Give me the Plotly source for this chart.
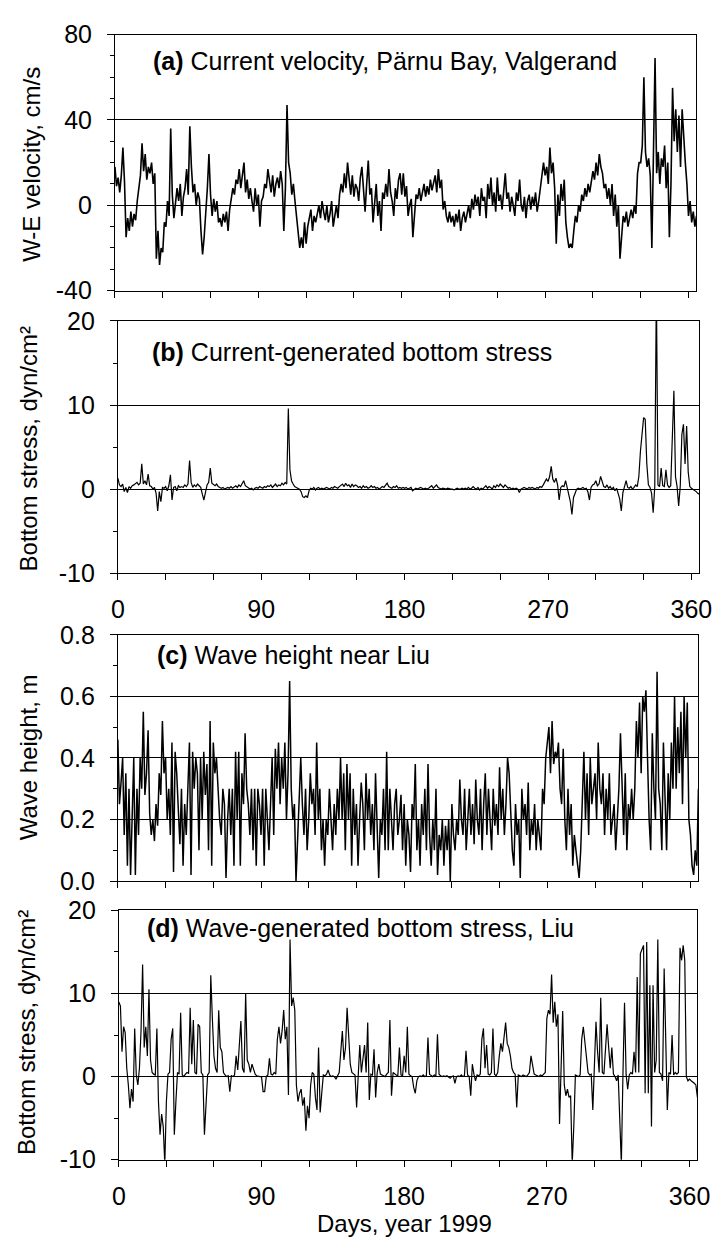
import plotly.graph_objects as go

days = list(range(366))

# (a) W-E current velocity, cm/s (daily estimates)
velocity = [
    18, 9, 13, 6, 14, 27, 11, -15, -6, -12,
    -3, -10, -4, -7, 2, 8, 14, 29, 16, 24,
    12, 18, 15, 20, 10, 15, -25, -12, -28, -20,
    -22, -8, -10, 2, -5, 36, 5, -6, 3, 8,
    2, 10, -5, 4, 8, 17, 5, 37, 18, 6,
    10, 0, 6, 3, -12, -23, -15, -5, 8, 24,
    5, -5, 3, -3, 2, -8, -6, -10, -4, -8,
    -3, -12, -2, 3, 8, 5, 12, 10, 17, 8,
    14, 20, 6, 12, 3, 8, 2, -3, 8, 0,
    5, -10, 2, 4, 10, 8, 17, 12, 6, 14,
    4, 10, 13, 8, 16, 10, -12, 8, 47, 20,
    15, 5, 10, 2, -5, -12, -20, -15, -20, -8,
    -18, -10, -6, -2, -12, -5, -8, -3, 0, -6,
    2, -3, -7, 0, -8, -4, 2, -10, -5, 0,
    -6, 5, 10, 6, 15, 8, 20, 12, 5, 14,
    4, 10, 8, 2, 13, 18, 5, -3, 10, 21,
    5, 8, -8, 3, 10, -5, 2, -12, 6, 3,
    10, 4, 17, 6, 2, -5, 8, 3, 12, 15,
    5, 15, 4, 9, -5, 0, 3, -15, -2, 5,
    3, 8, 2, 6, 10, 4, 9, 5, 12, 7,
    10, 14, 6, 17, 8, 12, -2, 2, -5, -8,
    -3, -8, -5, -10, -4, -8, -2, -12, -6, -3,
    -8, -4, 0, -6, 3, -2, 5, 0, 4, -5,
    8, 2, 4, -6, 10, 3, 13, 0, 6, -3,
    13, 2, 5, -2, 8, 15, 3, 6, -3, 4,
    0, -5, 6, 2, 12, 0, -3, 4, -6, 2,
    5, -2, 4, 0, 6, -3, 2, 8, 12, 20,
    14, 18, 10, 27, 15, 20, 8, -18, 5, -5,
    10, 2, 12, -8, -15, -20, -18, -20, -12, -5,
    -8, 0, -3, 5, 2, 8, 4, 10, 6, 12,
    16, 12, 20, 14, 24, 18, 15, 8, 10, 3,
    8, 0, 10, -5, 5, -10, 0, -25, -12, -5,
    -8, -3, -10, -5, -2, -6, 0, -4, 15, 20,
    20, 28, 60, 25, 18, 22, 14, -20, 20, 69,
    15, 25, 10, 22, 18, 28, 8, 20, -15, 10,
    55, 30, 45, 25, 42, 18, 45, 30, 20, 10,
    -5, 2, -8, -3, -10, -5,
]

# (b) current-generated bottom stress, dyn/cm2
current_stress = [
    1.3, 0.5, 0.3, 0.6, -0.3, 0.2, -0.4, 0.3, 0.1, 0.4,
    0.5, 0.6, 0.8, 0.5, 0.7, 3.0, 0.6, 1.0, 0.5, 1.8,
    0.4, 0.3, 0.0, 0.2, -0.5, -2.6, -0.3, -1.5, 0.2, 0.1,
    0.3, -0.2, 0.4, 1.7, -1.3, 0.2, 0.3, -0.2, 0.4, 0.2,
    0.3, 0.2, 0.5, 0.3, 0.6, 3.4, 0.8, 0.2, 0.5, 0.3,
    0.6, 0.4, 0.2, -0.6, -1.3, -0.4, 0.5, 0.8, 2.5, 0.7,
    0.5, 0.4, 0.6, 0.3, 0.2, 0.1, 0.2, 0.0, 0.1, 0.2,
    0.1, 0.3, 0.1, 0.2, 0.4, 0.2, 0.5, 0.3, 0.6, 1.0,
    0.4, 0.3, 0.2, 0.0, 0.1, -0.1, 0.1, 0.2, 0.1, 0.3,
    0.2, 0.1, 0.3, 0.2, 0.4, 0.3, 0.5, 0.2, 0.4, 0.6,
    0.3, 0.5, 0.4, 0.7, 0.5, 0.8, 0.6, 9.6, 2.3, 1.0,
    0.6, 0.3, 0.2, 0.1, 0.0, -0.3, -0.9, -1.0, -0.8, -1.0,
    -0.2, 0.1, 0.0, 0.2, -0.1, 0.1, 0.2, 0.0, 0.1, 0.0,
    0.1, 0.2, 0.1, 0.0, 0.2, 0.1, 0.3, 0.2, 0.1, 0.3,
    0.4, 0.6, 0.3, 0.7, 0.4, 0.5, 0.2, 0.6, 0.3, 0.5,
    0.4, 0.2, 0.3, 0.1, 0.4, 0.2, 0.3, 0.1, 0.2, 0.4,
    0.2, 0.3, 0.1, 0.2, 0.0, 0.1, 0.3, 0.2, 0.4, 0.7,
    0.3, 0.2, 0.1, 0.3, 0.2, 0.4, 0.1, 0.2, 0.1, 0.2,
    0.1, 0.2, 0.0, 0.1, 0.2, -0.2, 0.0, 0.1, 0.0, 0.1,
    0.2, 0.1, 0.0, 0.1, 0.0, 0.1, 0.2, 0.4, 0.1, 0.3,
    0.5, 0.2, 0.1, 0.0, 0.1, 0.0, 0.0, 0.1, 0.0, 0.0,
    0.0, -0.1, 0.0, 0.1, 0.0, 0.0, 0.1, 0.0, 0.1, 0.0,
    0.2, 0.0, 0.1, 0.3, 0.1, 0.0, 0.2, -0.1, 0.1, 0.0,
    0.2, 0.4, 0.1, 0.3, 0.2, 0.0, 0.4, 0.2, 0.5, 0.3,
    0.6, 0.4, 0.2, 0.5, 0.3, 0.1, 0.2, 0.0, 0.1, 0.0,
    0.1, 0.0, -0.4, 0.0, 0.1, 0.2, 0.1, 0.0, 0.2, 0.1,
    0.2, 0.1, 0.0, 0.2, 0.1, 0.3, 0.2, 0.5, 0.8, 1.2,
    0.9, 1.5, 2.7, 1.2, 0.8, 1.3, 0.5, -1.3, 0.2, 0.4,
    0.3, 1.0, 0.2, -0.8, -1.5, -3.0, -1.0, -0.5, 0.0, 0.1,
    0.0, 0.1, 0.2, 0.0, 0.1, -0.3, -1.3, 0.2, 0.5, 0.6,
    1.0, 0.4, 0.6, 1.5, 0.8, 0.3, 0.2, 0.5, 0.1, 0.3,
    0.0, 0.2, -0.2, 0.1, -0.5, -1.2, -2.6, -0.4, 0.3, 1.0,
    0.2, 0.1, 0.3, 0.0, 0.2, 0.5, 0.3, 1.5, 4.5, 6.3,
    8.5, 8.3, 3.0, 0.5, 0.2, -0.5, -2.8, 0.3, 24.0, 0.5,
    0.3, 2.5, 0.4, 0.3, 2.3, 0.5, 0.2, 0.4, 5.0, 11.7,
    1.5, 0.3, -2.0, 0.4, 6.5, 7.7, 3.0, 7.5, 2.0, 0.3,
    0.1, 0.0, -0.2, -0.3, -0.5, -0.6,
]

# (c) wave height near Liu, m
wave_height = [
    0.46, 0.25, 0.32, 0.40, 0.15, 0.35, 0.05, 0.30, 0.02, 0.25,
    0.40, 0.02, 0.30, 0.15, 0.40, 0.30, 0.55, 0.28, 0.35, 0.49,
    0.22, 0.15, 0.20, 0.13, 0.25, 0.18, 0.35, 0.28, 0.52, 0.35,
    0.40, 0.20, 0.30, 0.15, 0.45, 0.03, 0.42, 0.35, 0.20, 0.12,
    0.30, 0.05, 0.25, 0.15, 0.30, 0.45, 0.02, 0.42, 0.30, 0.40,
    0.35, 0.10, 0.40, 0.20, 0.42, 0.28, 0.38, 0.10, 0.52, 0.05,
    0.45, 0.35, 0.40, 0.30, 0.20, 0.15, 0.30, 0.25, 0.01, 0.20,
    0.30, 0.15, 0.30, 0.05, 0.42, 0.20, 0.42, 0.05, 0.35, 0.25,
    0.48, 0.30, 0.25, 0.15, 0.30, 0.10, 0.30, 0.05, 0.30, 0.25,
    0.15, 0.30, 0.05, 0.30, 0.20, 0.10, 0.25, 0.40, 0.15, 0.43,
    0.30, 0.45, 0.25, 0.40, 0.30, 0.45, 0.20, 0.35, 0.65, 0.30,
    0.20, 0.25, 0.00, 0.15, 0.30, 0.40, 0.25, 0.15, 0.30, 0.10,
    0.20, 0.35, 0.25, 0.30, 0.15, 0.45, 0.20, 0.30, 0.10, 0.20,
    0.05, 0.20, 0.15, 0.30, 0.20, 0.10, 0.25, 0.15, 0.30, 0.20,
    0.40, 0.20, 0.35, 0.10, 0.38, 0.20, 0.35, 0.05, 0.30, 0.15,
    0.25, 0.05, 0.20, 0.32, 0.25, 0.10, 0.35, 0.20, 0.30, 0.15,
    0.25, 0.10, 0.35, 0.20, 0.01, 0.20, 0.15, 0.30, 0.10, 0.42,
    0.10, 0.30, 0.20, 0.10, 0.25, 0.30, 0.15, 0.20, 0.28, 0.10,
    0.25, 0.05, 0.20, 0.15, 0.03, 0.25, 0.20, 0.38, 0.10, 0.20,
    0.05, 0.25, 0.15, 0.30, 0.10, 0.38, 0.15, 0.05, 0.20, 0.10,
    0.30, 0.02, 0.15, 0.10, 0.20, 0.05, 0.18, 0.10, 0.20, 0.00,
    0.25, 0.15, 0.10, 0.20, 0.15, 0.33, 0.20, 0.15, 0.30, 0.10,
    0.20, 0.30, 0.15, 0.25, 0.12, 0.33, 0.20, 0.15, 0.30, 0.10,
    0.25, 0.35, 0.15, 0.30, 0.20, 0.10, 0.30, 0.18, 0.25, 0.15,
    0.37, 0.20, 0.30, 0.15, 0.25, 0.40, 0.35, 0.20, 0.10, 0.05,
    0.25, 0.15, 0.20, 0.01, 0.30, 0.20, 0.25, 0.15, 0.32, 0.10,
    0.20, 0.15, 0.25, 0.10, 0.20, 0.15, 0.10, 0.30, 0.25, 0.40,
    0.45, 0.50, 0.35, 0.52, 0.38, 0.42, 0.40, 0.45, 0.30, 0.25,
    0.43, 0.20, 0.10, 0.30, 0.15, 0.25, 0.05, 0.15, 0.10, 0.05,
    0.01, 0.10, 0.30, 0.42, 0.20, 0.35, 0.15, 0.40, 0.25, 0.30,
    0.35, 0.20, 0.45, 0.30, 0.25, 0.35, 0.15, 0.30, 0.20, 0.35,
    0.15, 0.20, 0.25, 0.10, 0.20, 0.30, 0.48, 0.30, 0.15, 0.35,
    0.10, 0.25, 0.20, 0.30, 0.20, 0.30, 0.52, 0.40, 0.58, 0.35,
    0.60, 0.55, 0.62, 0.40, 0.20, 0.10, 0.48, 0.30, 0.20, 0.68,
    0.30, 0.25, 0.10, 0.45, 0.30, 0.10, 0.35, 0.20, 0.45, 0.30,
    0.60, 0.30, 0.50, 0.35, 0.55, 0.25, 0.60, 0.40, 0.58, 0.20,
    0.15, 0.05, 0.02, 0.10, 0.05, 0.30,
]

# (d) wave-generated bottom stress, Liu, dyn/cm2
wave_stress = [
    9.0, 8.5, 3.0, 6.0, 5.3, 1.0, -1.0, -3.8, -1.5, -3.0,
    5.8, 0.2, -1.0, 1.0, 5.5, 13.5, 3.5, 6.0, 2.5, 10.5,
    2.0, 0.5, 0.3, 0.2, 5.8, -3.0, -7.0, -4.5, -6.0, -10.5,
    -3.0, 0.3, 0.5, 4.5, 5.8, -7.0, -3.0, 0.5, 0.3, 7.7,
    0.2, 0.0, 0.3, 0.5, 0.4, 8.3, 1.5, 6.8, 0.5, 0.3,
    6.3, 6.0, 0.5, 0.2, -7.0, -4.0, 0.2, 0.5, 12.2, 7.0,
    2.5, 1.0, 0.5, 8.0, 3.5, 3.0, 0.5, 0.2, 0.0, 0.1,
    -1.8, 0.1, 0.0, 0.2, 2.5, 0.8, 3.5, 6.7, 1.0, 0.5,
    10.0, 2.0, 1.5, 0.5, 1.5, 1.0, 0.3, 0.1, 0.0, 0.0,
    0.0, -1.8, -1.8, 0.0, 0.2, 2.2, 0.3, 0.2, 0.5, 0.3,
    4.5, 6.0, 4.0, 5.5, 8.0, 4.5, 6.0, -2.2, 16.5, 8.5,
    9.5, 8.0, -1.0, -3.0, -2.0, -1.5, -3.5, -2.5, -6.5, -3.5,
    -5.0, -1.0, 0.5, 0.3, -2.5, -4.0, 3.5, -4.3, -2.0, 0.2,
    0.1, 0.3, 0.8, 0.2, 0.0, 0.1, 0.0, -0.3, 0.1, 0.5,
    3.0, 5.5, 2.0, 3.5, 8.3, 4.0, 1.5, 0.5, 0.3, 0.2,
    -3.7, 0.3, 3.8, 0.5, 2.0, 3.8, 0.5, 6.5, -2.8, 0.3,
    0.2, 3.3, -2.5, 0.5, 1.5, 0.3, 0.2, 0.1, 0.0, 0.3,
    0.5, 6.8, -2.3, 0.5, 0.3, 0.2, 0.1, 3.5, 0.2, 0.1,
    2.5, 0.5, 6.0, 0.3, 0.1, 0.0, -1.3, -2.0, -0.5, 0.0,
    0.1, 0.0, 0.2, 0.0, 0.1, 4.7, 0.3, 0.1, 0.0, 0.2,
    0.1, 5.1, 0.3, 0.1, 0.0, 0.1, 0.0, 0.1, 0.0, -0.2,
    0.0, 0.1, -0.8, 0.0, 0.1, 0.0, 0.2, 0.0, 0.1, 3.1,
    0.2, 0.0, -2.3, 1.5, 0.3, -0.5, 0.2, 0.1, 0.3, 4.5,
    5.8, 1.0, 3.8, 0.3, 0.2, 0.5, 5.8, 0.3, 0.1, 0.5,
    2.5, 4.0, 3.0, 5.0, 6.5, 4.0, 3.5, 2.5, 1.0, 0.5,
    0.3, -3.7, 0.2, 0.1, 0.0, 0.2, 0.1, 0.0, 0.2, 0.5,
    2.5, 1.2, 0.3, 0.2, 0.1, 0.0, 0.2, 0.1, 0.3, 0.5,
    7.0, 8.0, 7.5, 12.3, 6.5, 9.0, 6.0, 7.5, -5.7, 0.5,
    7.9, -1.0, -2.3, -1.5, -2.5, -2.3, -10.5, -6.0, 0.2, 0.1,
    0.0, 0.2, 4.5, 6.0, 4.0, 2.5, 0.5, 0.2, 0.3, -4.0,
    0.5, 6.6, 3.0, 0.5, 9.5, 0.5, 0.3, 3.0, 6.3, 3.5,
    1.0, 3.5, 0.3, 0.0, -0.5, 0.2, -6.0, -10.5, 0.2, 8.9,
    0.3, -1.5, 0.2, 0.5, 0.3, 3.0, 0.5, 12.0, 0.5, 14.8,
    15.3, 15.8, -2.0, 16.2, -2.0, 11.0, -6.0, 11.0, 0.5, 2.0,
    16.5, 0.5, 0.3, -0.5, 13.0, 5.0, -4.0, 0.5, 0.3, 5.0,
    0.2, 0.5, 0.3, 0.5, 15.5, 14.0, 15.8, 14.0, 0.0, -0.5,
    -0.3, -0.5, -0.6, -0.8, -1.0, -2.5,
]

x_tickvals = [0, 90, 180, 270, 360]
x_ticktext = ["0", "90", "180", "270", "360"]
x_minor = [30, 60, 120, 150, 210, 240, 300, 330]

W, H = 726, 1249
FONT = "Liberation Sans"


def fx(p):
    return p / W


def fy(p):
    return 1 - p / H


panels = [
    dict(y=velocity, xpx=(111, 709), ypx=(21, 283), yr=[-40, 80],
         tv=[-40, 0, 40, 80], tt=["-40", "0", "40", "80"],
         mv=[-30, -20, -10, 10, 20, 30, 50, 60, 70], xlab=False, lw=1.6,
         title="<b>(a)</b> Current velocity, Pärnu Bay, Valgerand", tpos=(148, 48),
         ytitle="W-E velocity, cm/s", ytpos=(25, 154)),
    dict(y=current_stress, xpx=(114, 712), ypx=(314, 572), yr=[-10, 20],
         tv=[-10, 0, 10, 20], tt=["-10", "0", "10", "20"],
         mv=[-5, 5, 15], xlab=True, lw=1.2,
         title="<b>(b)</b> Current-generated bottom stress", tpos=(147, 346),
         ytitle="Bottom stress, dyn/cm²", ytpos=(22, 445)),
    dict(y=wave_height, xpx=(114, 711), ypx=(635, 887), yr=[0, 0.8],
         tv=[0, 0.2, 0.4, 0.6, 0.8], tt=["0.0", "0.2", "0.4", "0.6", "0.8"],
         mv=[0.1, 0.3, 0.5, 0.7], xlab=False, lw=1.5,
         title="<b>(c)</b> Wave height near Liu", tpos=(152, 656),
         ytitle="Wave height, m", ytpos=(23, 760)),
    dict(y=wave_stress, xpx=(115, 710), ypx=(917, 1172), yr=[-10, 20],
         tv=[-10, 0, 10, 20], tt=["-10", "0", "10", "20"],
         mv=[-5, 5, 15], xlab=True, lw=1.2,
         title="<b>(d)</b> Wave-generated bottom stress, Liu", tpos=(142, 935),
         ytitle="Bottom stress, dyn/cm²", ytpos=(20, 1042)),
]

fig = go.Figure()
annotations = []
layout = {}
for i, p in enumerate(panels, start=1):
    sfx = "" if i == 1 else str(i)
    fig.add_trace(go.Scatter(
        x=days, y=p["y"], mode="lines",
        line=dict(color="black", width=p["lw"]),
        xaxis="x" + sfx, yaxis="y" + sfx, showlegend=False,
        hoverinfo="skip"))
    layout["xaxis" + sfx] = dict(
        domain=[fx(p["xpx"][0]), fx(p["xpx"][1])],
        anchor="y" + sfx, range=[0, 365],
        showline=True, mirror=True, linecolor="black", linewidth=1,
        showgrid=False, zeroline=False,
        ticks="outside", ticklen=6, tickcolor="black", tickwidth=1,
        tickmode="array", tickvals=x_tickvals, ticktext=x_ticktext,
        showticklabels=p["xlab"], ticklabelstandoff=8,
        tickfont=dict(family=FONT, size=25, color="black"),
        minor=dict(tickmode="array", tickvals=x_minor, ticks="outside",
                   ticklen=6, tickcolor="black", showgrid=False),
        fixedrange=True,
    )
    layout["yaxis" + sfx] = dict(
        domain=[fy(p["ypx"][1]), fy(p["ypx"][0])],
        anchor="x" + sfx, range=p["yr"],
        showline=True, mirror=True, linecolor="black", linewidth=1,
        showgrid=True, gridcolor="black", gridwidth=1, zeroline=False,
        ticks="outside", ticklen=7, tickcolor="black", tickwidth=1,
        tickmode="array", tickvals=p["tv"], ticktext=p["tt"],
        ticklabelstandoff=10,
        tickfont=dict(family=FONT, size=25, color="black"),
        minor=dict(tickmode="array", tickvals=p["mv"], ticks="outside",
                   ticklen=4, tickcolor="black", showgrid=False),
        fixedrange=True,
    )
    annotations.append(dict(
        text=p["title"], xref="paper", yref="paper",
        x=fx(p["tpos"][0]), y=fy(p["tpos"][1]),
        xanchor="left", yanchor="middle", showarrow=False,
        font=dict(family=FONT, size=25, color="black")))
    annotations.append(dict(
        text=p["ytitle"], xref="paper", yref="paper",
        x=fx(p["ytpos"][0]), y=fy(p["ytpos"][1]),
        xanchor="center", yanchor="middle", textangle=-90, showarrow=False,
        font=dict(family=FONT, size=24, color="black")))

annotations.append(dict(
    text="Days, year 1999", xref="paper", yref="paper",
    x=fx(409), y=fy(1237), xanchor="center", yanchor="middle",
    showarrow=False, font=dict(family=FONT, size=24, color="black")))

fig.update_layout(
    width=W, height=H, margin=dict(l=0, r=0, t=0, b=0),
    paper_bgcolor="white", plot_bgcolor="white",
    annotations=annotations, showlegend=False,
    **layout,
)

fig.write_html("out.html")
